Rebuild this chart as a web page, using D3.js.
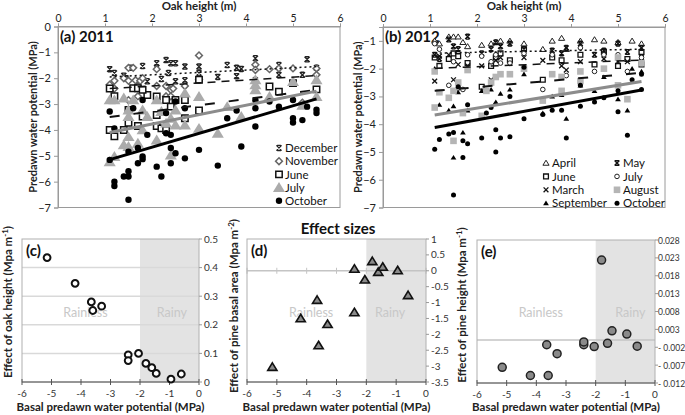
<!DOCTYPE html>
<html>
<head>
<meta charset="utf-8">
<script src="https://cdn.jsdelivr.net/npm/d3@7"></script>
<style>
  body { margin: 0; background: #fff; }
  text { font-family: Lato, "Open Sans", sans-serif; }
</style>
</head>
<body>
<div id="chart"></div>
<script>
// ---- data ----
const oakTicks = [0, 1, 2, 3, 4, 5, 6];
const psiTicks2011 = [0, -1, -2, -3, -4, -5, -6, -7];
const psiTicks2012 = [-1, -2, -3, -4, -5, -6, -7];

// 2011, [oak height, predawn potential]
const dec2011 = [[1.1,-1.65],[1.2,-1.8],[1.4,-1.9],[1.55,-1.6],[1.8,-1.53],[2.1,-1.42],[2.1,-1.6],[2.3,-1.3],[2.4,-1.42],[2.5,-1.42],[2.35,-1.8],[2.5,-2.12],[2.2,-2.03],[1.45,-2.0],[1.7,-2.12],[1.9,-2.12],[2.7,-1.55],[2.7,-2.08],[3.0,-1.55],[3.0,-1.8],[3.4,-1.95],[3.6,-1.49],[3.8,-1.6],[3.9,-1.64],[3.8,-1.92],[4.2,-1.23],[4.2,-2.07],[4.7,-1.49],[4.7,-1.87],[5.2,-1.87],[5.3,-1.27],[5.5,-1.6]];
const nov2011 = [[1.1,-2.25],[1.2,-2.1],[1.2,-2.4],[1.4,-2.0],[1.5,-1.6],[1.6,-1.6],[1.5,-2.1],[1.65,-2.08],[1.75,-2.1],[1.8,-2.0],[1.5,-2.85],[1.7,-2.7],[2.1,-1.65],[2.1,-2.3],[2.3,-2.3],[2.4,-2.45],[2.45,-2.4],[2.3,-2.7],[2.4,-2.7],[2.7,-2.3],[3.0,-1.12],[3.0,-2.05],[4.2,-1.48],[4.2,-1.68],[4.5,-1.65],[4.7,-1.62],[5.0,-1.62],[5.5,-1.62],[5.5,-1.87],[5.2,-2.95]];
const jun2011 = [[1.1,-2.4],[1.2,-2.7],[1.2,-4.25],[1.1,-4.0],[1.4,-4.0],[1.5,-3.72],[1.5,-3.23],[1.6,-2.39],[1.7,-2.39],[1.7,-3.85],[1.8,-3.48],[1.9,-2.65],[1.8,-2.45],[2.1,-2.71],[2.1,-3.42],[2.1,-3.85],[2.2,-3.94],[2.3,-2.84],[2.3,-4.0],[2.4,-3.1],[2.5,-2.84],[2.7,-2.84],[2.7,-3.55],[3.0,-2.06],[3.0,-3.25],[4.5,-2.32],[4.7,-2.52],[5.0,-2.19],[5.5,-2.43]];
const jul2011 = [[1.1,-2.84],[1.1,-5.23],[1.2,-2.84],[1.2,-5.03],[1.4,-2.77],[1.4,-4.58],[1.5,-3.23],[1.5,-3.48],[1.5,-4.26],[1.5,-4.64],[1.6,-2.84],[1.7,-4.52],[1.8,-3.23],[1.8,-4.0],[1.9,-3.48],[2.1,-2.84],[2.1,-4.39],[2.2,-3.29],[2.3,-3.74],[2.4,-3.55],[2.4,-4.97],[2.5,-3.23],[2.5,-3.81],[2.7,-2.58],[2.7,-3.81],[3.0,-2.71],[3.0,-3.94],[3.4,-4.13],[3.6,-3.1],[3.9,-3.48],[4.2,-2.06],[4.2,-2.26],[4.2,-2.45],[4.5,-2.71],[5.0,-2.13],[5.2,-3.05],[5.5,-2.06],[5.5,-2.71]];
const oct2011 = [[1.1,-3.29],[1.2,-3.94],[1.1,-5.16],[1.2,-6.0],[1.2,-6.17],[1.4,-5.8],[1.5,-5.8],[1.5,-6.7],[1.5,-5.6],[1.5,-4.84],[1.6,-3.16],[1.7,-4.7],[1.7,-5.29],[1.8,-2.84],[1.8,-5.03],[1.8,-5.13],[1.9,-4.19],[2.1,-5.42],[2.2,-5.8],[2.3,-3.35],[2.3,-4.13],[2.4,-4.19],[2.4,-4.7],[2.4,-5.29],[2.5,-4.9],[2.5,-2.9],[2.7,-3.16],[2.7,-5.1],[3.0,-4.77],[3.4,-5.38],[3.6,-3.55],[3.9,-4.64],[3.8,-3.25],[4.2,-2.85],[4.2,-3.16],[4.2,-3.87],[4.5,-2.9],[4.7,-3.1],[5.0,-2.84],[5.0,-3.55],[5.0,-3.71],[5.2,-3.62],[5.3,-3.1],[5.5,-3.22],[5.5,-3.35]];

// 2012
const apr2012 = [[1.1,-1.0],[1.2,-1.1],[1.4,-0.85],[1.5,-0.85],[1.6,-0.85],[1.7,-1.05],[1.8,-1.2],[2.1,-1.15],[2.3,-1.1],[2.4,-1.05],[2.5,-1.0],[2.7,-1.0],[3.0,-1.1],[3.4,-1.3],[3.6,-1.0],[3.8,-0.9],[3.9,-1.3],[4.2,-1.0],[4.5,-0.95],[4.7,-1.0],[5.0,-1.05],[5.3,-1.0],[5.5,-1.1]];
const may2012 = [[1.1,-1.5],[1.2,-1.65],[1.4,-0.95],[1.5,-1.2],[1.6,-1.3],[1.8,-0.85],[2.1,-1.45],[2.3,-1.3],[2.4,-1.05],[2.5,-1.2],[2.7,-1.1],[3.0,-1.3],[3.6,-1.35],[3.8,-1.45],[3.9,-1.25],[4.2,-1.1],[4.5,-1.5],[4.7,-1.35],[5.0,-1.1],[5.2,-1.4],[5.5,-1.25]];
const jun2012 = [[1.1,-1.6],[1.2,-1.9],[1.4,-1.65],[1.5,-1.45],[1.6,-1.55],[1.8,-1.8],[2.1,-2.65],[2.3,-1.9],[2.4,-1.6],[2.5,-1.45],[2.7,-1.7],[3.0,-1.3],[3.4,-2.4],[3.6,-1.6],[3.8,-1.7],[4.2,-1.5],[4.5,-1.85],[4.7,-1.4],[5.0,-1.9],[5.2,-1.65],[5.5,-1.85],[5.5,-1.4]];
const jul2012 = [[1.1,-1.1],[1.2,-1.3],[1.4,-2.6],[1.5,-1.75],[1.6,-2.7],[1.7,-2.75],[1.8,-1.5],[2.1,-1.55],[2.3,-1.75],[2.4,-1.5],[2.5,-1.8],[2.7,-1.8],[3.0,-1.45],[3.4,-2.75],[3.6,-1.5],[3.8,-2.3],[3.9,-2.25],[4.2,-1.25],[4.5,-2.1],[4.7,-1.5],[5.0,-1.5],[5.2,-2.1],[5.5,-1.6]];
const mar2012 = [[1.1,-2.45],[1.2,-1.55],[1.4,-1.5],[1.5,-2.4],[1.6,-1.85],[1.8,-1.9],[2.1,-1.9],[2.3,-2.4],[2.4,-1.7],[2.5,-1.6],[3.0,-1.6],[3.4,-1.7],[3.6,-2.2],[3.8,-1.9],[3.9,-2.05],[4.2,-1.75],[4.7,-1.65],[5.0,-1.75],[5.2,-1.75],[5.5,-1.6]];
const aug2012 = [[1.1,-2.1],[1.1,-3.4],[1.2,-2.85],[1.4,-3.05],[1.5,-4.6],[1.5,-2.8],[1.6,-2.5],[1.7,-3.6],[1.8,-2.05],[2.1,-3.7],[2.2,-2.8],[2.3,-2.5],[2.4,-2.3],[2.5,-2.2],[2.7,-2.2],[3.0,-2.0],[3.4,-3.15],[3.6,-2.2],[3.8,-2.3],[3.8,-2.8],[4.2,-2.1],[4.2,-2.45],[4.7,-2.0],[5.0,-2.6],[5.0,-1.6],[5.2,-3.1],[5.5,-1.8]];
const sep2012 = [[1.1,-2.0],[1.2,-3.3],[1.4,-3.5],[1.5,-5.2],[1.5,-3.35],[1.6,-2.85],[1.7,-4.3],[1.8,-3.5],[2.1,-2.8],[2.3,-2.75],[2.4,-3.2],[2.5,-2.9],[2.7,-2.75],[3.0,-2.2],[3.4,-3.6],[3.6,-3.0],[3.8,-2.95],[3.9,-3.8],[4.2,-2.6],[4.5,-2.8],[4.7,-2.3],[5.0,-3.1],[5.2,-3.5],[5.3,-2.0],[5.5,-2.1]];
const oct2012 = [[1.1,-4.9],[1.2,-4.55],[1.4,-4.35],[1.5,-6.55],[1.5,-4.3],[1.6,-2.65],[1.7,-5.2],[1.7,-4.6],[1.8,-4.7],[1.8,-3.3],[2.1,-4.5],[2.2,-3.6],[2.3,-3.4],[2.4,-5.0],[2.4,-4.2],[2.5,-4.5],[2.7,-4.45],[2.7,-3.0],[3.0,-3.8],[3.0,-1.95],[3.4,-3.65],[3.6,-3.5],[3.8,-3.5],[3.9,-4.5],[4.2,-3.35],[4.2,-2.6],[4.5,-3.2],[4.7,-3.05],[5.0,-3.55],[5.0,-2.8],[5.2,-4.4],[5.3,-2.4],[5.5,-2.75],[5.5,-2.2]];

// fitted lines: value at oak height 1.1 and 5.5
const trendX = [1.1, 5.5];
const trendStart2011 = [-1.95, -2.4, -3.5, -4.1, -5.15];
const trendEnd2011 = [-1.55, -1.9, -2.45, -2.5, -2.8];
const trendStart2012 = [-1.44, -1.99, -2.8, -3.67, -4.12];
const trendEnd2012 = [-1.3, -1.69, -2.15, -2.46, -2.77];

// effect sizes vs basal predawn potential
const basalTicks = [-6, -5, -4, -3, -2, -1, 0];
const basalPsi = [-5.15, -4.2, -3.65, -3.6, -3.3, -2.4, -2.4, -2.05, -1.8, -1.6, -1.45, -0.95, -0.6];
const effectOak = [0.435, 0.345, 0.28, 0.25, 0.265, 0.095, 0.075, 0.1, 0.065, 0.05, 0.03, 0.01, 0.028];
const effectBasal = [-3.03, -1.5, -0.92, -2.35, -1.68, -1.31, 0.06, -0.28, 0.3, -0.04, 0.12, 0.01, -0.77];
const effectPine = [-0.0076, -0.0099, -0.0013, -0.0099, -0.0038, -0.0013, -0.0005, -0.0018, 0.0224, -0.0009, 0.0026, 0.0017, -0.0017];
const oakEffTicks = [0, 0.1, 0.2, 0.3, 0.4, 0.5];
const basalEffTicks = [1, 0.5, 0, -0.5, -1, -1.5, -2, -2.5, -3, -3.5];
const pineEffTicks = [0.028, 0.023, 0.018, 0.013, 0.008, 0.003, -0.002, -0.007, -0.012];
const rainyLimit = -2;

// ---- drawing ----
const svg = d3.select("#chart").append("svg")
  .attr("width", 685).attr("height", 415);

function shapePath(shape, r) {
  if (shape === "square") return `M${-r},${-r}h${2*r}v${2*r}h${-2*r}Z`;
  if (shape === "diamond") return `M0,${-r}L${r},0L0,${r}L${-r},0Z`;
  if (shape === "triangle") return `M0,${-r}L${r*1.1},${r*0.8}L${-r*1.1},${r*0.8}Z`;
  if (shape === "circle") return `M${r},0A${r},${r} 0 1,1 ${-r},0A${r},${r} 0 1,1 ${r},0Z`;
  if (shape === "x") return `M${-r},${-r}L${r},${r}M${r},${-r}L${-r},${r}`;
  // excel "star"
  return `M${-r},${-r}L${r},${r}M${r},${-r}L${-r},${r}M${-r*0.7},${-r}H${r*0.7}M${-r*0.7},${r}H${r*0.7}`;
}

function drawMarks(g, pts, st, x, y) {
  g.append("g").selectAll("path").data(pts).join("path")
    .attr("transform", d => `translate(${x(d[0])},${y(d[1])})`)
    .attr("d", shapePath(st.shape, st.r))
    .attr("fill", st.fill || "none")
    .attr("stroke", st.stroke || "none")
    .attr("stroke-width", st.sw || 0);
}

function oakPanel(p) {
  const x = d3.scaleLinear().domain([0, 6]).range([p.left, p.right]);
  const y = d3.scaleLinear().domain(p.yDomain).range([p.bottom, p.top]);
  const g = svg.append("g");

  g.append("rect").attr("x", p.left).attr("y", p.top)
    .attr("width", p.right - p.left).attr("height", p.bottom - p.top)
    .attr("fill", "none").attr("stroke", "#9a9a9a");

  // top axis
  g.append("g").attr("transform", `translate(0,${p.top})`)
    .call(d3.axisTop(x).tickValues(oakTicks).tickSize(3).tickPadding(2).tickFormat(d3.format("d")))
    .call(a => a.select(".domain").attr("stroke", "#9a9a9a"))
    .call(a => a.selectAll("line").attr("stroke", "#9a9a9a"))
    .call(a => a.selectAll("text").attr("font-size", 10.5).attr("fill", "#222")
      .attr("font-family", "Lato, sans-serif"));
  // left axis
  g.append("g").attr("transform", `translate(${p.left},0)`)
    .call(d3.axisLeft(y).tickValues(p.yTicks).tickSize(4).tickFormat(d3.format("d")))
    .call(a => a.select(".domain").attr("stroke", "#9a9a9a"))
    .call(a => a.selectAll("line").attr("stroke", "#9a9a9a"))
    .call(a => a.selectAll("text").attr("font-size", 11).attr("fill", "#222")
      .attr("font-family", "Lato, sans-serif"));

  g.append("text").attr("x", (p.left + p.right) / 2).attr("y", 10)
    .attr("text-anchor", "middle").attr("font-weight", 700).attr("font-size", 11.5)
    .attr("fill", "#222").text("Oak height (m)");
  g.append("text").attr("transform", `translate(${p.left - 21},${(p.top + p.bottom) / 2}) rotate(-90)`)
    .attr("text-anchor", "middle").attr("font-weight", 700).attr("font-size", 11)
    .attr("fill", "#222").text("Predawn water potential (MPa)");
  g.append("text").attr("x", p.left + 2).attr("y", p.top + 15)
    .attr("font-weight", 700).attr("font-size", 15).attr("fill", "#111").text(p.label);

  p.series.forEach(s => drawMarks(g, s.pts, s, x, y));

  p.trendStart.forEach((v, i) => {
    const st = p.lines[i];
    g.append("line")
      .attr("x1", x(trendX[0])).attr("y1", y(v))
      .attr("x2", x(trendX[1])).attr("y2", y(p.trendEnd[i]))
      .attr("stroke", st.color).attr("stroke-width", st.w)
      .attr("stroke-dasharray", st.dash || null);
  });

  // legend
  p.series.forEach((s, i) => {
    const col = Math.floor(i / p.legendRows);
    const row = i % p.legendRows;
    const lx = p.legendX[col], ly = p.legendY + row * p.legendStep;
    const lg = g.append("g").attr("transform", `translate(${lx},${ly})`);
    lg.append("path").attr("d", shapePath(s.shape, s.legR || s.r))
      .attr("fill", s.fill || "none").attr("stroke", s.stroke || "none")
      .attr("stroke-width", s.sw || 0);
    lg.append("text").attr("x", 6).attr("y", 4.2).attr("font-size", 11.5)
      .attr("fill", "#111").text(s.name);
  });
}

oakPanel({
  left: 58, right: 340, top: 26.5, bottom: 207.5,
  yDomain: [-7, 0], yTicks: psiTicks2011, label: "(a) 2011",
  series: [
    { name: "December", pts: dec2011, shape: "star", r: 2.6, stroke: "#222", sw: 1.3 },
    { name: "November", pts: nov2011, shape: "diamond", r: 3.4, fill: "#fff", stroke: "#666", sw: 1.5 },
    { name: "June", pts: jun2011, shape: "square", r: 3.2, fill: "#fff", stroke: "#111", sw: 1.5 },
    { name: "July", pts: jul2011, shape: "triangle", r: 5.5, fill: "#ababab" },
    { name: "October", pts: oct2011, shape: "circle", r: 3.2, fill: "#000" }
  ],
  trendStart: trendStart2011, trendEnd: trendEnd2011,
  lines: [
    { color: "#111", w: 1.5, dash: "2,3" },
    { color: "#111", w: 1.5, dash: "8,6" },
    { color: "#111", w: 2, dash: "10,14" },
    { color: "#8c8c8c", w: 3 },
    { color: "#000", w: 3 }
  ],
  legendRows: 5, legendX: [279], legendY: 148, legendStep: 13.2
});

oakPanel({
  left: 383, right: 665, top: 27, bottom: 207.5,
  yDomain: [-7, -0.5], yTicks: psiTicks2012, label: "(b) 2012",
  series: [
    { name: "April", pts: apr2012, shape: "triangle", r: 2.8, fill: "#fff", stroke: "#222", sw: 1 },
    { name: "June", pts: jun2012, shape: "square", r: 2.4, fill: "#fff", stroke: "#111", sw: 1.3 },
    { name: "March", pts: mar2012, shape: "x", r: 2.4, stroke: "#111", sw: 1.3 },
    { name: "September", pts: sep2012, shape: "triangle", r: 2.6, fill: "#000" },
    { name: "May", pts: may2012, shape: "star", r: 2.4, stroke: "#111", sw: 1.4 },
    { name: "July", pts: jul2012, shape: "circle", r: 2.3, fill: "#fff", stroke: "#222", sw: 1 },
    { name: "August", pts: aug2012, shape: "square", r: 3.3, fill: "#b5b5b5" },
    { name: "October", pts: oct2012, shape: "circle", r: 2.5, fill: "#000" }
  ],
  trendStart: trendStart2012, trendEnd: trendEnd2012,
  lines: [
    { color: "#111", w: 1.5, dash: "2,3" },
    { color: "#111", w: 1.5, dash: "8,6" },
    { color: "#111", w: 2, dash: "10,14" },
    { color: "#8c8c8c", w: 3 },
    { color: "#000", w: 3 }
  ],
  legendRows: 4, legendX: [546, 617], legendY: 163, legendStep: 13.4
});

svg.append("text").attr("x", 338).attr("y", 234).attr("text-anchor", "middle")
  .attr("font-weight", 700).attr("font-size", 15).attr("fill", "#111").text("Effect sizes");

function effectPanel(p) {
  const x = d3.scaleLinear().domain([-6, 0]).range([p.left, p.right]);
  const y = d3.scaleLinear().domain(p.yDomain).range([p.bottom, p.top]);
  const g = svg.append("g");

  g.append("rect").attr("x", x(rainyLimit)).attr("y", p.top)
    .attr("width", x(0) - x(rainyLimit)).attr("height", p.bottom - p.top)
    .attr("fill", "#e3e3e3");

  if (p.grid) {
    g.append("g").selectAll("line").data(p.yTicks.filter(v => v > p.yDomain[0] && v < p.yDomain[1]))
      .join("line").attr("x1", p.left).attr("x2", p.right)
      .attr("y1", d => y(d)).attr("y2", d => y(d))
      .attr("stroke", "#d9d9d9").attr("stroke-width", 1.5);
  }
  if (p.zero) {
    g.append("line").attr("x1", p.left).attr("x2", p.right)
      .attr("y1", y(0)).attr("y2", y(0)).attr("stroke", "#c4c4c4").attr("stroke-width", 1.5);
    if (p.zeroTicks) {
      g.append("g").selectAll("line").data(basalTicks).join("line")
        .attr("x1", d => x(d)).attr("x2", d => x(d))
        .attr("y1", y(0) - 3).attr("y2", y(0) + 3).attr("stroke", "#c4c4c4");
    }
  }

  g.append("rect").attr("x", p.left).attr("y", p.top)
    .attr("width", p.right - p.left).attr("height", p.bottom - p.top)
    .attr("fill", "none").attr("stroke", "#b0b0b0");

  // bottom axis, ticks crossing the line
  g.append("line").attr("x1", p.left).attr("x2", p.right)
    .attr("y1", p.bottom).attr("y2", p.bottom).attr("stroke", "#555");
  g.append("g").selectAll("line").data(basalTicks).join("line")
    .attr("x1", d => x(d)).attr("x2", d => x(d))
    .attr("y1", p.bottom - 3).attr("y2", p.bottom + 3).attr("stroke", "#555");
  g.append("g").selectAll("text").data(basalTicks).join("text")
    .attr("x", d => x(d)).attr("y", p.bottom + 15).attr("text-anchor", "middle")
    .attr("font-size", 10).attr("fill", "#333").text(d => d);

  // right axis
  g.append("g").selectAll("line").data(p.yTicks).join("line")
    .attr("x1", p.right).attr("x2", p.right + 3)
    .attr("y1", d => y(d)).attr("y2", d => y(d)).attr("stroke", "#999");
  g.append("g").selectAll("text").data(p.yTicks).join("text")
    .attr("x", p.right + p.tickGap).attr("y", d => y(d) + 3.5)
    .attr("font-size", p.tickSize).attr("fill", "#333").text((d, i) => p.tickLabels[i]);

  g.append("text").attr("x", x(p.rainlessX)).attr("y", 317).attr("text-anchor", "middle")
    .attr("font-size", 12.5).attr("fill", "#c8c8c8").text("Rainless");
  g.append("text").attr("x", x(p.rainyX)).attr("y", 317).attr("text-anchor", "middle")
    .attr("font-size", 12.5).attr("fill", "#c8c8c8").text("Rainy");

  g.append("text").attr("x", p.left + 4).attr("y", p.top + 17)
    .attr("font-weight", 700).attr("font-size", 15).attr("fill", "#111").text(p.label);

  g.append("text").attr("x", (p.left + p.right) / 2).attr("y", 411)
    .attr("text-anchor", "middle").attr("font-weight", 700).attr("font-size", 11.5)
    .attr("fill", "#222").text("Basal predawn water potential (MPa)");

  const yl = g.append("text")
    .attr("transform", `translate(${p.ylabelX},${p.ylabelY}) rotate(-90)`)
    .attr("text-anchor", "middle").attr("font-weight", 700).attr("font-size", 11.5)
    .attr("fill", "#222");
  yl.append("tspan").text(p.ylabel);
  yl.append("tspan").attr("dy", -4).attr("font-size", 8).text(p.ylabelSup);
  yl.append("tspan").attr("dy", 4).text(")");

  drawMarks(g, basalPsi.map((v, i) => [v, p.values[i]]), p.marker, x, y);
}

effectPanel({
  left: 22, right: 199, top: 239, bottom: 382,
  yDomain: [0, 0.5], yTicks: oakEffTicks, tickLabels: oakEffTicks.map(d => d),
  tickGap: 5, tickSize: 10,
  values: effectOak, grid: true, label: "(c)",
  rainlessX: -3.85, rainyX: -0.92,
  ylabel: "Effect of oak height (Mpa m", ylabelSup: "-1", ylabelX: 12, ylabelY: 302,
  marker: { shape: "circle", r: 3.4, fill: "#fff", stroke: "#111", sw: 2 }
});

effectPanel({
  left: 247, right: 426, top: 239, bottom: 382,
  yDomain: [-3.5, 1], yTicks: basalEffTicks, tickLabels: basalEffTicks.map(d => d),
  tickGap: 5, tickSize: 10,
  values: effectBasal, zero: true, zeroTicks: true, label: "(d)",
  rainlessX: -3.85, rainyX: -1.2,
  ylabel: "Effect of pine basal area (Mpa m", ylabelSup: "-2", ylabelX: 238, ylabelY: 306,
  marker: { shape: "triangle", r: 4.2, fill: "#8a8a8a", stroke: "#111", sw: 1.6 }
});

effectPanel({
  left: 477, right: 655, top: 240, bottom: 383,
  yDomain: [-0.012, 0.028], yTicks: pineEffTicks,
  tickLabels: pineEffTicks.map(d => d < 0 ? "- " + Math.abs(d).toFixed(3) : d.toFixed(3)),
  tickGap: 3, tickSize: 8.5,
  values: effectPine, zero: true, label: "(e)",
  rainlessX: -3.85, rainyX: -0.83,
  ylabel: "Effect of pine height (Mpa m", ylabelSup: "-1", ylabelX: 466, ylabelY: 305,
  marker: { shape: "circle", r: 4, fill: "#8a8a8a", stroke: "#222", sw: 1.5 }
});
</script>
</body>
</html>
